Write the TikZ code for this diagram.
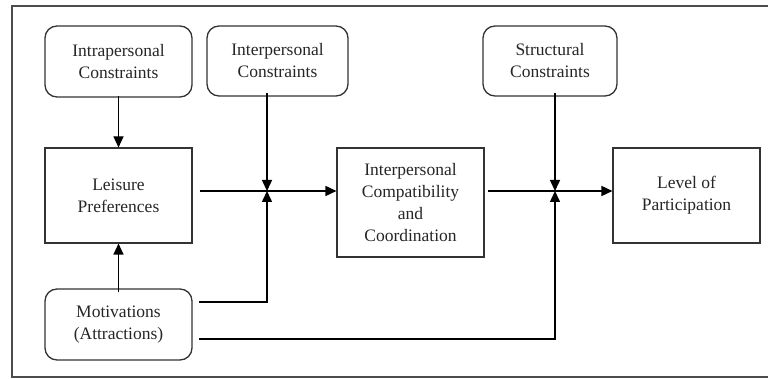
\documentclass[tikz,border=0pt]{standalone}
\usepackage{fontspec}
\setmainfont{Liberation Serif}
\usetikzlibrary{arrows.meta}
\begin{document}
\begin{tikzpicture}[x=1pt,y=-1pt,
  every node/.style={font=\fontsize{17.5}{22}\selectfont, align=center, text=black!85, inner sep=0pt},
  roundbox/.style={draw=black!80, line width=1.3pt, rounded corners=12pt},
  squarebox/.style={draw=black!80, line width=1.1pt},
  flow/.style={draw=black, line width=1.5pt, -{Triangle[length=11pt,width=10pt]}},
  thinflow/.style={draw=black, line width=1.1pt, -{Triangle[length=11pt,width=10pt]}},
  frame/.style={draw=black!70, line width=1.6pt}]
\useasboundingbox (0,0) rectangle (768,379);
% surrounding frame (open on the right)
\draw[frame] (768,6) -- (12,6) -- (12,377) -- (768,377);

% constraint boxes
\node[roundbox, minimum width=147pt, minimum height=71pt] (intra) at (118.5,61.5) {Intrapersonal\\Constraints};
\node[roundbox, minimum width=141pt, minimum height=70pt] (inter) at (277.5,61) {Interpersonal\\Constraints};
\node[roundbox, minimum width=134pt, minimum height=70pt] (struct) at (550,61) {Structural\\Constraints};

% main stages
\node[squarebox, minimum width=147pt, minimum height=95pt] (leis) at (118.5,195.5) {Leisure\\Preferences};
\node[squarebox, minimum width=147pt, minimum height=109pt] (compat) at (410.5,202.5) {Interpersonal\\Compatibility\\and\\Coordination};
\node[squarebox, minimum width=147pt, minimum height=95pt] (level) at (686.5,195.5) {Level of\\Participation};
\node[roundbox, minimum width=147pt, minimum height=71pt] (motiv) at (118.5,324.5) {Motivations\\(Attractions)};

% junction points
\coordinate (j1) at (267,191);
\coordinate (j2) at (555,191);
\coordinate (m1) at (199,302);
\coordinate (m2) at (199,339);

% connectors
\draw[thinflow] ([yshift=2pt]intra.south) -- (leis.north);
\draw[thinflow] ([yshift=-4pt]motiv.north) -- (leis.south);
\draw[flow] ([yshift=4pt]inter.south -| j1) -- (j1);
\draw[flow] ([xshift=7pt]leis.east |- j1) -- (compat.west |- j1);
\draw[flow] (m1) -| (j1);
\draw[flow] ([yshift=4pt]struct.south -| j2) -- (j2);
\draw[flow] ([xshift=3pt]compat.east |- j2) -- (level.west |- j2);
\draw[flow] (m2) -| (j2);
\end{tikzpicture}
\end{document}
